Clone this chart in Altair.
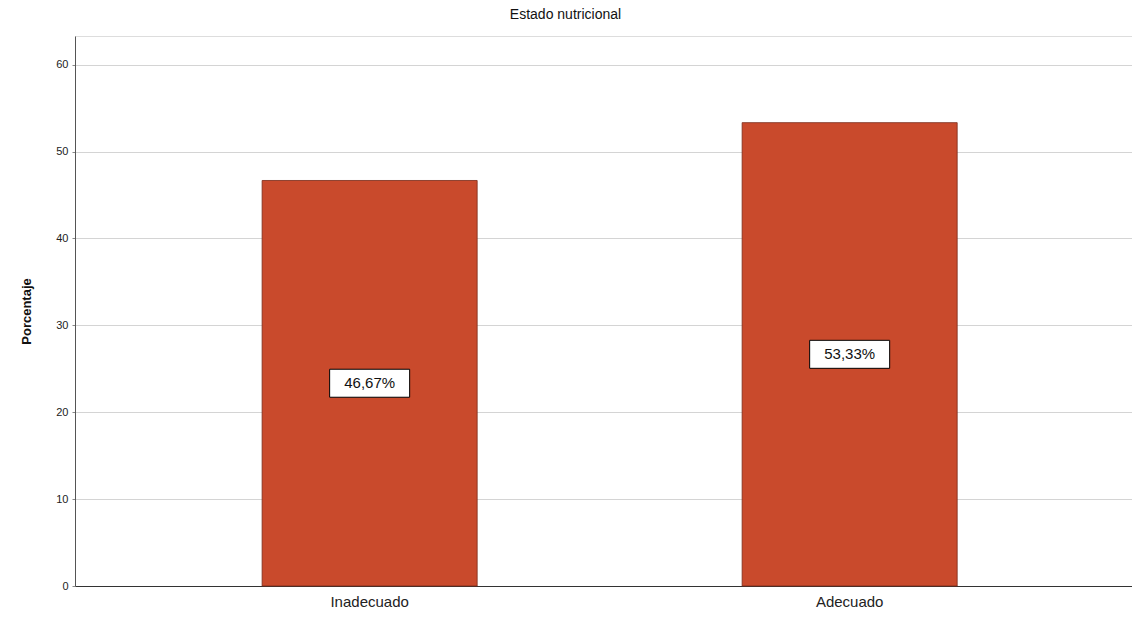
import altair as alt
import pandas as pd

categories = ["Inadecuado", "Adecuado"]
values = [46.67, 53.33]
labels = ["46,67%", "53,33%"]

df = pd.DataFrame({"cat": categories, "val": values, "lab": labels})
df["mid"] = df["val"] / 2

x = alt.X("cat:N", sort=categories, title=None,
          scale=alt.Scale(paddingInner=0.552, paddingOuter=0.377, align=0.517),
          axis=alt.Axis(labelAngle=0, labelFontSize=15, labelColor="#222222",
                        labelFont="Liberation Sans", ticks=False, domainColor="#333333",
                        labelPadding=8))
y_scale = alt.Scale(domain=[0, 63.3], nice=False)

bars = alt.Chart(df).mark_bar(color="#c94a2c", stroke="#7a2a18", strokeWidth=0.8).encode(
    x=x,
    y=alt.Y("val:Q", scale=y_scale, title="Porcentaje",
            axis=alt.Axis(values=[0, 10, 20, 30, 40, 50, 60], labelFontSize=11,
                          labelColor="#222222", labelFont="Liberation Sans",
                          titleFont="Liberation Sans", titleFontSize=13,
                          titleFontWeight="bold", titleColor="#111111",
                          titlePadding=22, gridColor="#d4d4d4", domainColor="#555555",
                          tickSize=3, tickColor="#888888", labelPadding=4)),
)

boxes = alt.Chart(df).mark_point(
    shape="M-1,-0.35L1,-0.35L1,0.35L-1,0.35Z", size=6400, filled=True,
    fill="white", stroke="black", strokeWidth=1, opacity=1
).encode(x=x, y=alt.Y("mid:Q", scale=y_scale))

texts = alt.Chart(df).mark_text(fontSize=15, font="Liberation Sans", color="#111111").encode(
    x=x, y=alt.Y("mid:Q", scale=y_scale), text="lab:N")

chart = alt.layer(bars, boxes, texts).properties(
    width=1057, height=550,
    title=alt.TitleParams("Estado nutricional", fontSize=14, font="Liberation Sans",
                          fontWeight="normal", color="#111111", anchor="middle",
                          offset=14, dx=-38),
    autosize=alt.AutoSizeParams(type="none"),
    padding={"left": 75, "top": 36, "right": 0, "bottom": 32},
).configure_view(stroke=None).configure(background="white")

chart.save("out.html", embed_options={"renderer": "svg", "actions": False})
